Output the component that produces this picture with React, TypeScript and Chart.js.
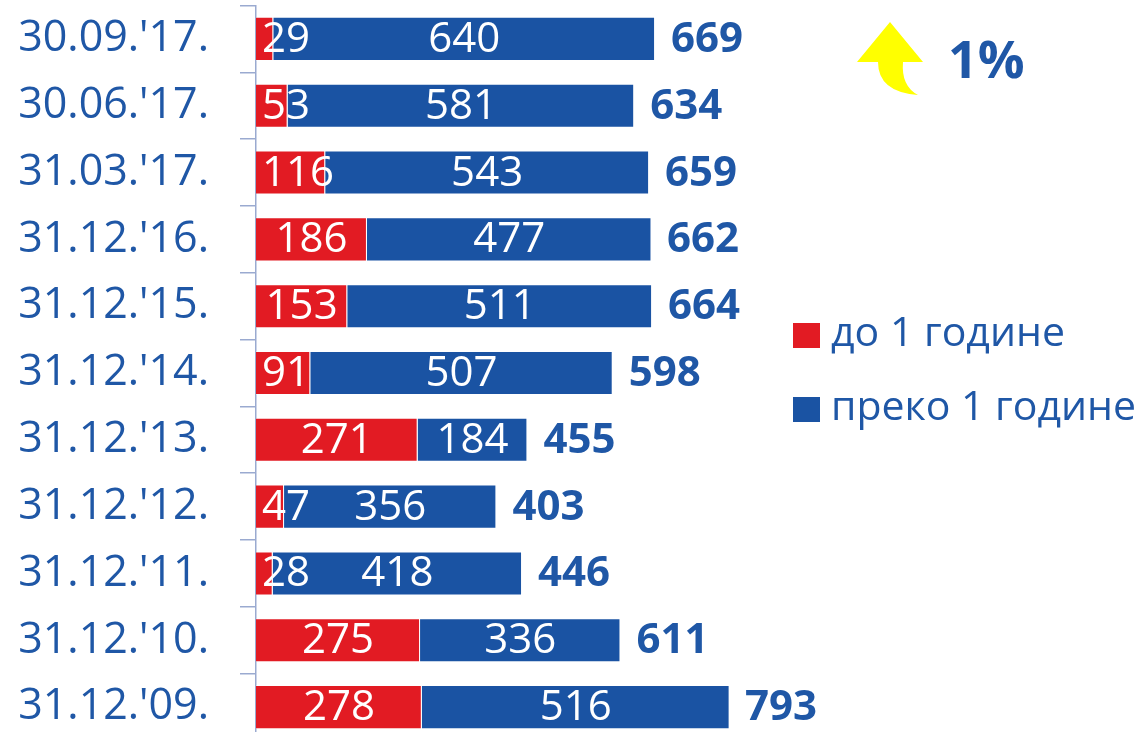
import React, { useEffect, useRef } from "react";
import { Chart, registerables } from "chart.js";

Chart.register(...registerables);

const categories = [
  "30.09.'17.",
  "30.06.'17.",
  "31.03.'17.",
  "31.12.'16.",
  "31.12.'15.",
  "31.12.'14.",
  "31.12.'13.",
  "31.12.'12.",
  "31.12.'11.",
  "31.12.'10.",
  "31.12.'09.",
];
const upTo1Year = [29, 53, 116, 186, 153, 91, 271, 47, 28, 275, 278];
const over1Year = [640, 581, 543, 477, 511, 507, 184, 356, 418, 336, 516];
const totals = [669, 634, 659, 662, 664, 598, 455, 403, 446, 611, 793];
const seriesNames = ["до 1 године", "преко 1 године"];
const changeLabel = "1%";

const RED = "#E21B23";
const BLUE = "#1A53A3";
const TEXT_BLUE = "#1F57A6";
const AXIS = "#9AAAD0";
const FONT = "'Open Sans', 'Noto Sans', sans-serif";

const labelsPlugin = {
  id: "customLabels",
  afterDatasetsDraw(chart: any) {
    const ctx = chart.ctx;
    const area = chart.chartArea;
    ctx.save();
    ctx.textBaseline = "middle";
    ctx.font = `42px ${FONT}`;
    ctx.fillStyle = "#ffffff";
    chart.data.datasets.forEach((ds: any, di: number) => {
      const meta = chart.getDatasetMeta(di);
      meta.data.forEach((bar: any, i: number) => {
        const txt = String(ds.data[i]);
        const w = ctx.measureText(txt).width;
        const center = (bar.x + bar.base) / 2;
        let left = center - w / 2;
        if (di === 0) left = Math.max(left, area.left + 6);
        ctx.textAlign = "left";
        ctx.fillText(txt, left, bar.y + 1);
      });
    });
    const lastMeta = chart.getDatasetMeta(chart.data.datasets.length - 1);
    ctx.font = `bold 42px ${FONT}`;
    ctx.fillStyle = TEXT_BLUE;
    ctx.textAlign = "left";
    lastMeta.data.forEach((bar: any, i: number) => {
      const xEnd = chart.scales.x.getPixelForValue(totals[i]);
      ctx.fillText(String(totals[i]), xEnd + 16, bar.y + 1);
    });
    ctx.restore();
  },
  afterDraw(chart: any) {
    const ctx = chart.ctx;
    ctx.save();
    const colors = [RED, BLUE];
    const ys = [335, 409];
    ctx.font = `41px ${FONT}`;
    ctx.textBaseline = "middle";
    ctx.textAlign = "left";
    seriesNames.forEach((name, i) => {
      ctx.fillStyle = colors[i];
      ctx.fillRect(793, ys[i] - 12, 27, 25);
      ctx.fillStyle = TEXT_BLUE;
      ctx.fillText(name, 831, ys[i] - 1);
    });
    ctx.fillStyle = "#FFFF00";
    ctx.beginPath();
    ctx.moveTo(890, 22);
    ctx.lineTo(923, 62);
    ctx.lineTo(903, 62);
    ctx.quadraticCurveTo(901, 86, 918, 95);
    ctx.quadraticCurveTo(878, 92, 878, 62);
    ctx.lineTo(857, 62);
    ctx.closePath();
    ctx.fill();
    ctx.fillStyle = TEXT_BLUE;
    ctx.font = `bold 52px ${FONT}`;
    ctx.textBaseline = "middle";
    ctx.fillText(changeLabel, 948, 63);
    ctx.restore();
  },
};

export default function App() {
  const ref = useRef<HTMLCanvasElement | null>(null);
  useEffect(() => {
    if (!ref.current) return;
    const chart = new Chart(ref.current, {
      type: "bar",
      data: {
        labels: categories,
        datasets: [
          {
            label: seriesNames[0],
            data: upTo1Year,
            backgroundColor: RED,
            borderColor: "rgba(255,255,255,0.35)",
            borderWidth: 1,
            barPercentage: 0.66,
            categoryPercentage: 1,
          },
          {
            label: seriesNames[1],
            data: over1Year,
            backgroundColor: BLUE,
            borderColor: "rgba(255,255,255,0.35)",
            borderWidth: 1,
            barPercentage: 0.66,
            categoryPercentage: 1,
          },
        ],
      },
      options: {
        indexAxis: "y",
        animation: false,
        responsive: false,
        maintainAspectRatio: false,
        layout: { padding: { left: 0, right: 292.5, top: 5.5, bottom: 1.5 } },
        plugins: { legend: { display: false }, tooltip: { enabled: false } },
        scales: {
          x: { stacked: true, min: 0, max: 1000, display: false },
          y: {
            stacked: true,
            afterFit: (scale: any) => {
              scale.width = 256;
              scale.paddingTop = 0;
              scale.paddingBottom = 0;
            },
            grid: {
              offset: true,
              drawOnChartArea: false,
              drawTicks: true,
              tickLength: 16,
              color: AXIS,
              lineWidth: 1.5,
            },
            border: { display: true, color: AXIS, width: 1.5 },
            ticks: {
              padding: 31,
              color: TEXT_BLUE,
              font: { family: FONT, size: 43 },
            },
          },
        },
      },
      plugins: [labelsPlugin],
    });
    return () => chart.destroy();
  }, []);
  return (
    <div style={{ position: "absolute", left: 0, top: 0, width: 1145, height: 732, overflow: "hidden", background: "#fff" }}>
      <canvas ref={ref} width={1145} height={742} style={{ width: 1145, height: 742, display: "block" }} />
    </div>
  );
}
